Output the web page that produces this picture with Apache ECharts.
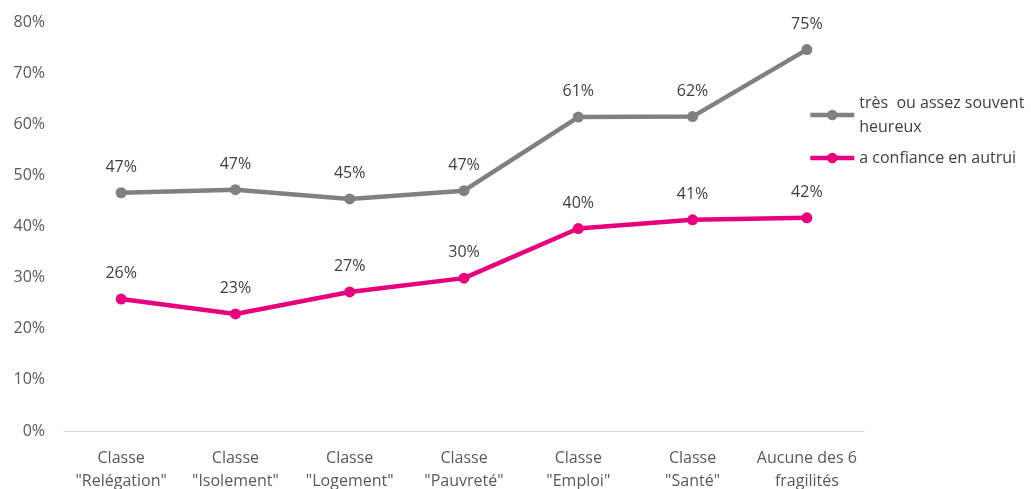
<!DOCTYPE html>
<html><head><meta charset="utf-8">
<script src="https://cdn.jsdelivr.net/npm/echarts@6/dist/echarts.min.js"></script>
<style>html,body{margin:0;padding:0;background:#fff}#c{width:1031px;height:489px}</style>
</head><body><div id="c"></div>
<script>
const categories = ['Classe\n"Relégation"', 'Classe\n"Isolement"', 'Classe\n"Logement"', 'Classe\n"Pauvreté"', 'Classe\n"Emploi"', 'Classe\n"Santé"', 'Aucune des 6\nfragilités'];
const heureux = [46.6, 47.2, 45.4, 47.0, 61.4, 61.5, 74.6];
const confiance = [25.8, 22.9, 27.2, 29.9, 39.6, 41.3, 41.7];
const yTicks = [0, 10, 20, 30, 40, 50, 60, 70, 80];
const seriesNames = ['très  ou assez souvent\nheureux', 'a confiance en autrui'];

const font = '"Open Sans", sans-serif';
const chart = echarts.init(document.getElementById('c'));
chart.setOption({
  animation: false,
  textStyle: { fontFamily: font },
  grid: { left: 64, right: 167, top: 22, bottom: 58, outerBoundsMode: 'none', containLabel: false },
  legend: {
    orient: 'vertical', left: 803, top: 86, itemGap: 7,
    itemWidth: 44, itemHeight: 13,
    lineStyle: { width: 4.5 },
    textStyle: { fontFamily: font, fontSize: 16, color: '#404040', lineHeight: 24 },
    data: seriesNames
  },
  xAxis: {
    type: 'category', data: categories, boundaryGap: true,
    axisLine: { lineStyle: { color: '#d9d9d9', width: 1 } },
    axisTick: { show: false },
    axisLabel: { color: '#595959', fontSize: 16, lineHeight: 23, margin: 16, interval: 0, fontFamily: font }
  },
  yAxis: {
    type: 'value', min: yTicks[0], max: yTicks[yTicks.length - 1], interval: 10,
    splitLine: { show: false }, axisLine: { show: false }, axisTick: { show: false },
    axisLabel: { color: '#595959', fontSize: 16, margin: 19, formatter: v => v + '%', fontFamily: font }
  },
  series: [
    { name: seriesNames[0], type: 'line', data: heureux, symbol: 'circle', symbolSize: 11,
      lineStyle: { color: '#808080', width: 4.5 }, itemStyle: { color: '#808080' },
      label: { show: true, position: 'top', distance: 12, color: '#404040', fontSize: 16, fontFamily: font,
        formatter: p => Math.round(p.value) + '%' } },
    { name: seriesNames[1], type: 'line', data: confiance, symbol: 'circle', symbolSize: 11,
      lineStyle: { color: '#E6007E', width: 4.5 }, itemStyle: { color: '#E6007E' },
      label: { show: true, position: 'top', distance: 12, color: '#404040', fontSize: 16, fontFamily: font,
        formatter: p => Math.round(p.value) + '%' } }
  ]
});
</script></body></html>
